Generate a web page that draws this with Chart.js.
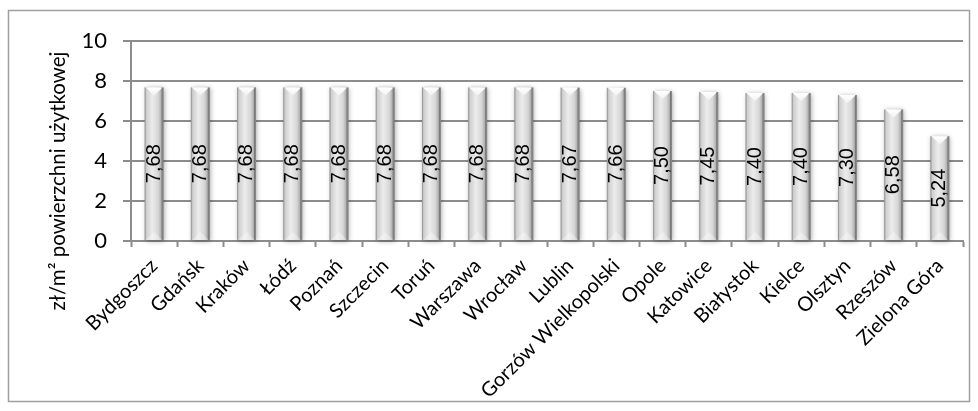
<!DOCTYPE html>
<html lang="pl">
<head>
<meta charset="utf-8">
<title>Stawki czynszu</title>
<script src="https://cdn.jsdelivr.net/npm/chart.js@4.4.1/dist/chart.umd.min.js"></script>
<style>
  html, body { margin: 0; padding: 0; background: #ffffff; }
  #wrap { width: 978px; height: 411px; position: relative; }
</style>
</head>
<body>
<div id="wrap"><canvas id="chart" width="978" height="411"></canvas></div>
<script>
// Miasta i stawki (zł/m² powierzchni użytkowej)
const cities = [
  'Bydgoszcz', 'Gdańsk', 'Kraków', 'Łódź', 'Poznań', 'Szczecin', 'Toruń',
  'Warszawa', 'Wrocław', 'Lublin', 'Gorzów Wielkopolski', 'Opole', 'Katowice',
  'Białystok', 'Kielce', 'Olsztyn', 'Rzeszów', 'Zielona Góra'
];
const rates = [
  7.68, 7.68, 7.68, 7.68, 7.68, 7.68, 7.68, 7.68, 7.68,
  7.67, 7.66, 7.50, 7.45, 7.40, 7.40, 7.30, 6.58, 5.24
];
const yTicks = [0, 2, 4, 6, 8, 10];
const yTitle = 'zł/m² powierzchni użytkowej';

const axisFont = 'Lato, "Open Sans", sans-serif';
const gridColor = '#8c8c8c';

const fmt = v => v.toFixed(2).replace('.', ',');

// Frame around the whole chart and the vertical axis title
const framePlugin = {
  id: 'frame',
  beforeDraw(chart) {
    const ctx = chart.ctx;
    ctx.save();
    ctx.fillStyle = '#ffffff';
    ctx.fillRect(0, 0, chart.width, chart.height);
    ctx.strokeStyle = '#a0a0a0';
    ctx.lineWidth = 1.5;
    ctx.strokeRect(8.5, 10.5, 961, 391);
    ctx.restore();
  },
  afterDraw(chart) {
    const ctx = chart.ctx;
    ctx.save();
    ctx.translate(58, 181);
    ctx.rotate(-Math.PI / 2);
    ctx.font = '20.5px ' + axisFont;
    ctx.fillStyle = '#000000';
    ctx.textAlign = 'center';
    ctx.textBaseline = 'middle';
    ctx.fillText(yTitle, 0, 0);
    ctx.restore();
  }
};

// Cylinder-like bars with bevelled ends, plus value labels inside the bars
const barPlugin = {
  id: 'bevelBars',
  afterDatasetsDraw(chart) {
    const ctx = chart.ctx;
    const meta = chart.getDatasetMeta(0);
    const values = chart.data.datasets[0].data;
    meta.data.forEach((bar, i) => {
      const w = bar.width;
      const left = bar.x - w / 2;
      const right = bar.x + w / 2;
      const top = bar.y;
      const base = bar.base;
      const h = base - top;
      const bev = Math.min(8, h / 3);

      ctx.save();
      // soft shadow
      ctx.shadowColor = 'rgba(0,0,0,0.35)';
      ctx.shadowBlur = 5;
      ctx.shadowOffsetX = 1;
      ctx.shadowOffsetY = 1;
      const g = ctx.createLinearGradient(left, 0, right, 0);
      g.addColorStop(0, '#a4a4a4');
      g.addColorStop(0.1, '#cfcfcf');
      g.addColorStop(0.4, '#ececec');
      g.addColorStop(0.72, '#d6d6d6');
      g.addColorStop(0.9, '#a8a8a8');
      g.addColorStop(1, '#7c7c7c');
      ctx.fillStyle = g;
      ctx.fillRect(left, top, w, h);
      ctx.restore();

      // top bevel
      ctx.save();
      const gt = ctx.createLinearGradient(0, top, 0, top + bev);
      gt.addColorStop(0, '#ffffff');
      gt.addColorStop(1, '#f2f2f2');
      ctx.fillStyle = gt;
      ctx.beginPath();
      ctx.moveTo(left + 1, top);
      ctx.lineTo(right - 1, top);
      ctx.lineTo(bar.x, top + bev);
      ctx.closePath();
      ctx.fill();

      // bottom bevel
      ctx.fillStyle = 'rgba(255,255,255,0.35)';
      ctx.beginPath();
      ctx.moveTo(left + 1, base);
      ctx.lineTo(right - 1, base);
      ctx.lineTo(bar.x, base - bev);
      ctx.closePath();
      ctx.fill();

      // thin edge lines
      ctx.strokeStyle = 'rgba(90,90,90,0.55)';
      ctx.lineWidth = 1;
      ctx.beginPath();
      ctx.moveTo(right - 1.5, top);
      ctx.lineTo(right - 1.5, base);
      ctx.stroke();
      ctx.strokeStyle = 'rgba(120,120,120,0.35)';
      ctx.beginPath();
      ctx.moveTo(left + 0.5, top);
      ctx.lineTo(left + 0.5, base);
      ctx.stroke();
      ctx.restore();

      // value label
      ctx.save();
      ctx.translate(bar.x, (top + base) / 2);
      ctx.rotate(-Math.PI / 2);
      ctx.font = '20px "Liberation Sans", Arial, sans-serif';
      ctx.fillStyle = '#000000';
      ctx.textAlign = 'center';
      ctx.textBaseline = 'middle';
      ctx.fillText(fmt(values[i]), 0, 0);
      ctx.restore();
    });
  }
};

new Chart(document.getElementById('chart'), {
  type: 'bar',
  data: {
    labels: cities,
    datasets: [{
      data: rates,
      backgroundColor: 'rgba(0,0,0,0)',
      borderWidth: 0,
      categoryPercentage: 1,
      barPercentage: 0.41
    }]
  },
  options: {
    responsive: false,
    animation: false,
    devicePixelRatio: 1,
    layout: { padding: { top: 41, right: 15, left: 0, bottom: 0 } },
    plugins: {
      legend: { display: false },
      tooltip: { enabled: false }
    },
    scales: {
      x: {
        offset: true,
        grid: {
          display: true,
          offset: true,
          drawOnChartArea: false,
          drawTicks: true,
          tickLength: 6,
          tickWidth: 2,
          tickColor: gridColor
        },
        border: { display: true, color: gridColor, width: 2 },
        ticks: {
          autoSkip: false,
          minRotation: 45,
          maxRotation: 45,
          padding: 7,
          color: '#000000',
          font: { family: axisFont, size: 20 }
        },
        afterFit(scale) { scale.height = 170; }
      },
      y: {
        min: 0,
        max: 10,
        afterBuildTicks(scale) {
          scale.ticks = yTicks.map(v => ({ value: v }));
        },
        grid: {
          color: gridColor,
          lineWidth: 2,
          drawTicks: true,
          tickLength: 8,
          tickColor: gridColor
        },
        border: { display: true, color: gridColor, width: 2 },
        ticks: {
          padding: 16,
          color: '#000000',
          font: { family: axisFont, size: 22 }
        },
        afterFit(scale) { scale.width = 131; }
      }
    }
  },
  plugins: [framePlugin, barPlugin]
});
</script>
</body>
</html>
